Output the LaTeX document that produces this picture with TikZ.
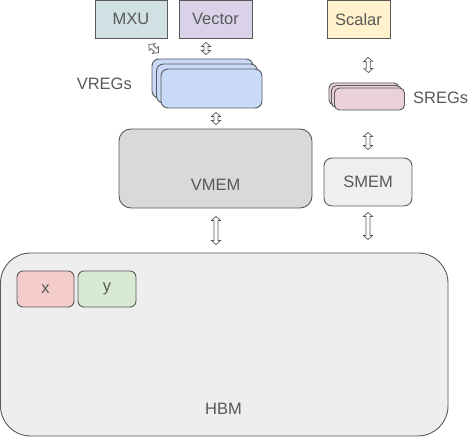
\documentclass[tikz,border=0pt]{standalone}
\usepackage{fontspec}
\setmainfont{Liberation Sans}
\usetikzlibrary{calc}
\definecolor{ln}{HTML}{595959}
\definecolor{tx}{HTML}{595959}
\definecolor{cmxu}{HTML}{D0E0E3}
\definecolor{cvec}{HTML}{D9D2E9}
\definecolor{csca}{HTML}{FFF2CC}
\definecolor{cvreg}{HTML}{C9DAF8}
\definecolor{csreg}{HTML}{EAD1DC}
\definecolor{cvmem}{HTML}{D9D9D9}
\definecolor{csmem}{HTML}{EFEFEF}
\definecolor{chbm}{HTML}{EEEEEE}
\definecolor{cx}{HTML}{F4CCCC}
\definecolor{cy}{HTML}{D9EAD3}
\newcommand{\blockarrow}[2]{%
  \draw[barrow] let \p1=#1, \p2=#2, \n1={atan2(\y2-\y1,\x2-\x1)}, \n2={veclen(\x2-\x1,\y2-\y1)} in
    [shift={(\p1)}, rotate=\n1]
    (0,0) -- (4,4.5) -- (4,2) -- (\n2-4,2) -- (\n2-4,4.5) -- (\n2,0) -- (\n2-4,-4.5) -- (\n2-4,-2) -- (4,-2) -- (4,-4.5) -- cycle;}
\begin{document}
\begin{tikzpicture}[x=1pt,y=-1pt,
  box/.style={draw=ln, line width=0.9pt, inner sep=0pt, text=tx, font=\fontsize{16.5}{19}\selectfont},
  lbl/.style={inner sep=0pt, text=tx, font=\fontsize{16.5}{19}\selectfont},
  barrow/.style={draw=ln, fill=white, line width=0.7pt, line join=miter}]
\useasboundingbox (0,0) rectangle (474,446);
% top units
\node[box, fill=cmxu, minimum width=72pt, minimum height=37.5pt] (mxu) at (131,19.3) {MXU};
\node[box, fill=cvec, minimum width=73pt, minimum height=37.5pt] (vector) at (215.5,19.3) {Vector};
\node[box, fill=csca, minimum width=63pt, minimum height=37.5pt] (scalar) at (358.5,19.3) {Scalar};
% VREGs stack
\node[box, fill=cvreg, rounded corners=7pt, minimum width=101pt, minimum height=39pt] (vregb) at (202.5,78.5) {};
\node[box, fill=cvreg, rounded corners=7pt, minimum width=101pt, minimum height=39pt] (vregm) at (207,83.5) {};
\node[box, fill=cvreg, rounded corners=7pt, minimum width=101pt, minimum height=39pt] (vregf) at (211.5,88.5) {};
\node[lbl, anchor=east] (vregl) at (132,84) {VREGs};
% SREGs stack
\node[box, fill=csreg, rounded corners=5pt, minimum width=70pt, minimum height=22pt] (sregb) at (364,94) {};
\node[box, fill=csreg, rounded corners=5pt, minimum width=70pt, minimum height=22pt] (sregm) at (366.5,96.5) {};
\node[box, fill=csreg, rounded corners=5pt, minimum width=70pt, minimum height=22pt] (sregf) at (369.5,99) {};
\node[lbl, anchor=west] (sregl) at (413,98) {SREGs};
% memories
\node[box, fill=cvmem, rounded corners=12pt, minimum width=193pt, minimum height=79pt] (vmem) at (215.5,168.5) {};
\node[lbl] (vmeml) at (215.7,185) {VMEM};
\node[box, fill=csmem, rounded corners=8pt, minimum width=88pt, minimum height=48pt] (smem) at (368,182) {SMEM};
\node[box, fill=chbm, rounded corners=30pt, minimum width=447.5pt, minimum height=183pt] (hbm) at (224.25,344.5) {};
\node[lbl] (hbml) at (223.5,409) {HBM};
\node[box, fill=cx, rounded corners=6pt, minimum width=57pt, minimum height=36pt] (x) at (45.5,289) {x};
\node[box, fill=cy, rounded corners=6pt, minimum width=58pt, minimum height=36pt] (y) at (107,289) {y};
% arrows
\blockarrow{([shift={(18,6)}]mxu.south)}{([shift={(-44,-6)}]vregb.north)}
\blockarrow{([shift={(-9.5,4)}]vector.south)}{([shift={(3.5,-4)}]vregb.north)}
\blockarrow{([shift={(4.5,4)}]vregf.south)}{([shift={(0.5,-4)}]vmem.north)}
\blockarrow{([shift={(9.5,19)}]scalar.south)}{([shift={(4.5,-10)}]sregb.north)}
\blockarrow{([shift={(-1.5,22)}]sregf.south)}{([shift={(0,-8)}]smem.north)}
\blockarrow{([shift={(0,6)}]smem.south)}{([shift={(143.75,-13)}]hbm.north)}
\blockarrow{([shift={(0.5,8)}]vmem.south)}{([shift={(-8.25,-8)}]hbm.north)}
\end{tikzpicture}
\end{document}
